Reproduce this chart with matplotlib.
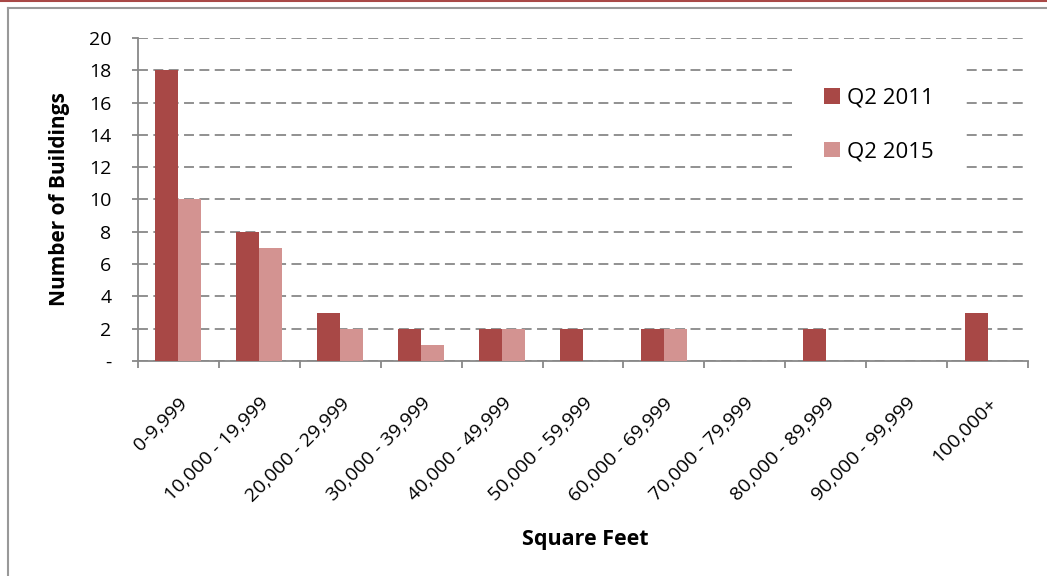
import numpy as np
import matplotlib.pyplot as plt
from matplotlib.lines import Line2D
from matplotlib.patches import Rectangle

categories = ['0-9,999', '10,000 - 19,999', '20,000 - 29,999', '30,000 - 39,999',
              '40,000 - 49,999', '50,000 - 59,999', '60,000 - 69,999',
              '70,000 - 79,999', '80,000 - 89,999', '90,000 - 99,999', '100,000+']
q2_2011 = [18, 8, 3, 2, 2, 2, 2, 0, 2, 0, 3]
q2_2015 = [10, 7, 2, 1, 2, 0, 2, 0, 0, 0, 0]
yticks = [0, 2, 4, 6, 8, 10, 12, 14, 16, 18, 20]
ytick_labels = ['-', '2', '4', '6', '8', '10', '12', '14', '16', '18', '20']

plt.rcParams['font.family'] = ['Open Sans', 'DejaVu Sans']

c_dark = '#A84846'
c_light = '#D39391'
grey = '#888888'

W, H = 1047, 576
fig = plt.figure(figsize=(W/100, H/100), dpi=100)
# plot area in pixels: x 138..1028, y 38..361
ax = fig.add_axes([138/W, 1-361/H, (1028-138)/W, (361-38)/H])

x = np.arange(len(categories))
w = 0.284
ax.bar(x - w/2, q2_2011, w, color=c_dark, label='Q2 2011', zorder=3)
ax.bar(x + w/2, q2_2015, w, color=c_light, label='Q2 2015', zorder=3)

ax.set_xlim(-0.5, len(categories) - 0.5)
ax.set_ylim(0, 20)
ax.set_yticks(yticks)
ax.set_yticklabels(ytick_labels, fontsize=14)
ax.yaxis.grid(True, color=grey, linestyle=(0, (5.5, 3)), linewidth=1.3, zorder=0)

ax.set_xticks(x)
ax.set_xticklabels(categories, rotation=45, ha='right', rotation_mode='anchor', fontsize=14)
ax.set_xticks(np.arange(-0.5, len(categories), 1), minor=True)
ax.tick_params(axis='x', which='major', length=0, pad=24)
ax.tick_params(axis='x', which='minor', length=5, color=grey, width=1.3, direction='out')
ax.tick_params(axis='y', length=4, color=grey, width=1.3, direction='out', pad=15)

for s in ['top', 'right']:
    ax.spines[s].set_visible(False)
for s in ['left', 'bottom']:
    ax.spines[s].set_color(grey)
    ax.spines[s].set_linewidth(1.3)

ax.set_ylabel('Number of Buildings', fontsize=15, fontweight='bold')
ax.yaxis.set_label_coords((70-138)/890, 0.5)
ax.set_xlabel('Square Feet', fontsize=15.5, fontweight='bold')
ax.xaxis.set_label_coords((585-138)/890, (361-529)/323)

# white box behind the legend, breaking the gridlines
ax.add_patch(Rectangle(((792-138)/890, (361-188)/323), (963-792)/890, (188-58)/323,
                       transform=ax.transAxes, facecolor='white', edgecolor='none', zorder=4))
leg = ax.legend(loc='center left', bbox_to_anchor=((824-138)/890, (361-125)/323),
                frameon=False, fontsize=16, handlelength=0.7, handleheight=0.7,
                handletextpad=0.35, labelspacing=1.45, borderpad=0, borderaxespad=0)
leg.set_zorder(5)

# outer frame of the chart
fig.add_artist(Line2D([8/W, 8/W], [0, 1-8/H], color='#999999', lw=1.5))
fig.add_artist(Line2D([8/W, 1], [1-8/H, 1-8/H], color='#999999', lw=1.5))
fig.add_artist(Line2D([0, 1], [1-0.8/H, 1-0.8/H], color=c_dark, lw=1.5))

fig.savefig('out.png', dpi=100)
